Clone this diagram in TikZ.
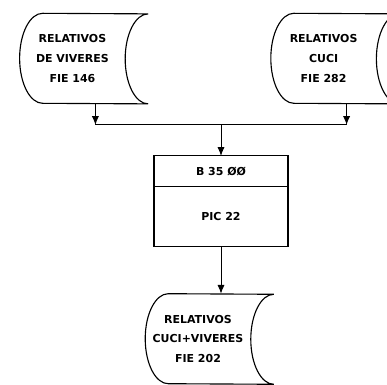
\documentclass[tikz,border=0pt]{standalone}
\usepackage{fontspec}
\setsansfont{DejaVu Sans}
\usepackage{tikz}
\usetikzlibrary{arrows.meta,positioning,calc}

\begin{document}
\begin{tikzpicture}[node distance=0pt,every node/.style={font=\sffamily\bfseries\fontsize{7.8}{14}\selectfont},
  store/.style={minimum width=2.625cm,minimum height=2.25cm,inner sep=0pt,align=center},
  outline/.style={line width=0.8pt},
  proc/.style={draw,line width=0.8pt,outer sep=0pt,minimum width=3.35cm,inner sep=0pt,align=center},
  arr/.style={line width=0.7pt,-{Latex[length=2.2mm,width=1.8mm]}}]
\useasboundingbox (0,0) rectangle (9.675,9.625);
\node[store] (vivr) at (1.81,8.16) {RELATIVOS\\DE VIVERES\\FIE 146};
\node[store] (cuci) at (8.09,8.16) {RELATIVOS\\CUCI\\FIE 282};
\node[proc,minimum height=0.775cm] (hdr) at (5.525,5.34) {B 35 ØØ};
\node[proc,minimum height=1.5cm,below=of hdr] (pic) {PIC 22};
\node[store] (junt) at (4.95,1.15) {RELATIVOS\\CUCI+VIVERES\\FIE 202};
% stored data outline: convex left side, concave right side
\foreach \n in {vivr,cuci,junt}
  \draw[outline] ([xshift=0.575cm]\n.north west)
    arc[start angle=90,end angle=270,x radius=0.575cm,y radius=1.125cm]
    -- ([xshift=0.575cm]\n.south east)
    arc[start angle=270,end angle=90,x radius=0.575cm,y radius=1.125cm] -- cycle;
\coordinate (jn) at ($(hdr.north)+(0,0.775)$);
\coordinate (jl) at ([xshift=0.575cm]vivr.south |- jn);
\coordinate (jr) at ([xshift=0.575cm]cuci.south |- jn);
\draw[arr] ([xshift=0.575cm]vivr.south) -- (jl);
\draw[arr] ([xshift=0.575cm]cuci.south) -- (jr);
\draw[line width=0.7pt] (jl) -- (jr);
\draw[arr] (jn) -- (hdr.north);
\draw[arr] (pic.south) -- (pic.south |- junt.north);
\end{tikzpicture}
\end{document}
